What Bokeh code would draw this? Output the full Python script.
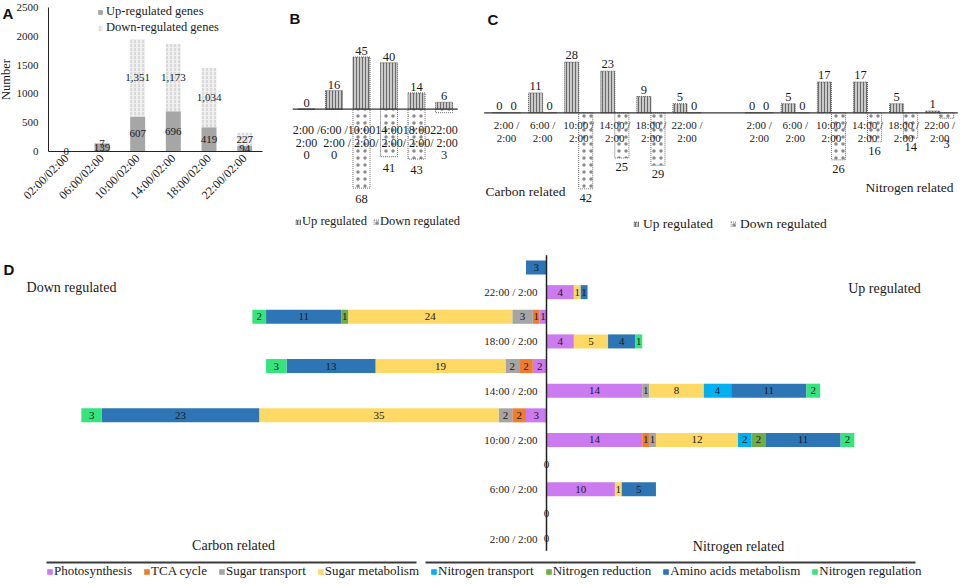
import math
import numpy as np
from bokeh.plotting import figure
from bokeh.models import (Range1d, ColumnDataSource, Legend, LegendItem,
                          Label, FixedTicker, LinearAxis)
from bokeh.layouts import row, column
from bokeh.embed import file_html
from bokeh.resources import INLINE
from bokeh.core.properties import value

SERIF = "Liberation Serif"
SANS = "Liberation Sans"
INK = "#1a1a1a"

# ---------------- data ----------------
a_times = ["02:00/02:00", "06:00/02:00", "10:00/02:00", "14:00/02:00", "18:00/02:00", "22:00/02:00"]
a_up = [0, 139, 607, 696, 419, 94]
a_down = [0, 7, 1351, 1173, 1034, 227]
a_yticks = [0, 500, 1000, 1500, 2000, 2500]

b_line1 = ["2:00 /", "6:00 /", "10:00", "14:00", "18:00", "22:00"]
b_line2 = ["2:00", "2:00", "/ 2:00", "/ 2:00", "/ 2:00", "/ 2:00"]
b_up = [0, 16, 45, 40, 14, 6]
b_down = [0, 0, 68, 41, 43, 3]

c_groups = ["Carbon related", "Nitrogen related"]
c_line1 = ["2:00 /", "6:00 /", "10:00 /", "14:00 /", "18:00 /", "22:00 /"]
c_line2 = ["2:00", "2:00", "2:00", "2:00", "2:00", "2:00"]
c_carbon_up = [0, 11, 28, 23, 9, 5]
c_carbon_down = [0, 0, 42, 25, 29, 0]
c_nitrogen_up = [0, 5, 17, 17, 5, 1]
c_nitrogen_down = [0, 0, 26, 16, 14, 3]

d_times = ["2:00 / 2:00", "6:00 / 2:00", "10:00 / 2:00", "14:00 / 2:00", "18:00 / 2:00", "22:00 / 2:00"]
d_categories = ["Photosynthesis", "TCA cycle", "Sugar transport", "Sugar metabolism",
                "Nitrogen transport", "Nitrogen reduction", "Amino acids metabolism", "Nitrogen regulation"]
d_colors = ["#cb7af0", "#ed7d31", "#a5a5a5", "#ffd966", "#00b0f0", "#70ad47", "#2e75b6", "#34e47c"]
d_up = {
    "Photosynthesis":        [0, 10, 14, 14, 4, 4],
    "TCA cycle":             [0, 0, 1, 0, 0, 0],
    "Sugar transport":       [0, 0, 1, 1, 0, 0],
    "Sugar metabolism":      [0, 1, 12, 8, 5, 1],
    "Nitrogen transport":    [0, 0, 2, 4, 0, 0],
    "Nitrogen reduction":    [0, 0, 2, 0, 0, 0],
    "Amino acids metabolism": [0, 5, 11, 11, 4, 1],
    "Nitrogen regulation":   [0, 0, 2, 2, 1, 0],
}
d_down = {
    "Photosynthesis":        [0, 0, 3, 2, 1, 0],
    "TCA cycle":             [0, 0, 2, 2, 1, 0],
    "Sugar transport":       [0, 0, 2, 2, 3, 0],
    "Sugar metabolism":      [0, 0, 35, 19, 24, 0],
    "Nitrogen transport":    [0, 0, 0, 0, 0, 0],
    "Nitrogen reduction":    [0, 0, 0, 0, 1, 0],
    "Amino acids metabolism": [0, 0, 23, 13, 11, 3],
    "Nitrogen regulation":   [0, 0, 3, 3, 2, 0],
}

UP_STYLE = dict(fill_color="#c9c9c9", hatch_pattern="vertical_line", hatch_color="#6a6a6a",
                hatch_scale=3, hatch_weight=1, line_color="#5a5a5a", line_dash="1 1", line_width=1)
DOWN_STYLE = dict(fill_color="#ffffff", hatch_pattern="dot", hatch_color="#8a8a8a",
                  hatch_scale=7, hatch_weight=1, line_color="#6a6a6a", line_dash="1 1", line_width=1)


def clean(p):
    p.outline_line_color = None
    p.grid.visible = False
    p.background_fill_color = "white"
    p.border_fill_color = "white"
    try:
        p.frame_align = False
    except Exception:
        pass


def letter(p, txt, x, y):
    p.add_layout(Label(x=x, y=y, x_units="screen", y_units="screen", text=txt,
                       text_font=SANS, text_font_style="bold", text_font_size="15px",
                       text_baseline="top", text_align="left", text_color="#111111"))


def style_legend(leg, size, glyph=6, standoff=3, spacing=2, lh=14):
    leg.glyph_width = glyph
    leg.glyph_height = glyph
    leg.label_standoff = standoff
    leg.label_height = lh
    leg.spacing = spacing
    leg.padding = 0
    leg.margin = 0
    leg.border_line_color = None
    leg.background_fill_alpha = 0
    leg.label_text_font = SERIF
    leg.label_text_font_size = size
    leg.label_text_color = INK


# ---------------- Panel A ----------------
A_W, A_H = 270, 248
A_FL, A_FR = 48, 262          # plot-area left / right (px)
A_Y0PX, A_YTOPPX = 150.7, 7.3  # pixel of value 0 / of 2500
A_PX = (A_FR - A_FL) / len(a_times)
A_PY = (A_Y0PX - A_YTOPPX) / a_yticks[-1]
ax0 = -A_FL / A_PX - 0.5
pA = figure(width=A_W, height=A_H,
            x_range=Range1d(ax0, ax0 + A_W / A_PX),
            y_range=Range1d(-(A_H - A_Y0PX) / A_PY, A_Y0PX / A_PY),
            x_axis_location=None, y_axis_location=None, min_border=0,
            output_backend="svg", toolbar_location=None)
clean(pA)
ax_idx = list(range(len(a_times)))
up = np.array(a_up, float)
dn = np.array(a_down, float)
srcA = ColumnDataSource(dict(x=ax_idx, up=up, total=up + dn, up_mid=up / 2,
                             up_lbl=[f"{int(v):,}" for v in up]))
rA_up = pA.vbar(x="x", top="up", bottom=0, width=0.42, source=srcA,
                fill_color="#a6a6a6", line_color=None)
rA_dn = pA.vbar(x="x", bottom="up", top="total", width=0.42, source=srcA,
                fill_color="#efefef", hatch_pattern="vertical_dash", hatch_color="#c2c2c2",
                hatch_scale=4, hatch_weight=1, line_color=None)
pA.text(x="x", y="up_mid", text="up_lbl", source=srcA, text_align="center", text_baseline="middle",
        text_font=value(SERIF), text_font_size="11px", text_color=INK)
keep = [i for i in ax_idx if a_down[i] > 0]
srcA2 = ColumnDataSource(dict(x=keep, y=[(up + dn / 2)[i] for i in keep],
                              t=[f"{a_down[i]:,}" for i in keep]))
pA.text(x="x", y="y", text="t", source=srcA2, text_align="center", text_baseline="middle",
        text_font=value(SERIF), text_font_size="11px", text_color=INK)

yax = LinearAxis(fixed_location=-0.5, bounds=(0, a_yticks[-1]), ticker=FixedTicker(ticks=a_yticks))
xax = LinearAxis(fixed_location=0, bounds=(-0.5, len(a_times) - 0.5), ticker=FixedTicker(ticks=ax_idx),
                 major_label_overrides={i: t for i, t in zip(ax_idx, a_times)})
for ax in (xax, yax):
    ax.major_tick_line_color = None
    ax.minor_tick_line_color = None
    ax.major_tick_out = 0
    ax.major_tick_in = 0
    ax.axis_line_color = "#222222"
    ax.major_label_text_font = SERIF
    ax.major_label_text_color = INK
yax.major_label_text_font_size = "11px"
yax.major_label_standoff = 10
yax.axis_label = "Number"
yax.axis_label_text_font = SERIF
yax.axis_label_text_font_style = "normal"
yax.axis_label_text_font_size = "12.5px"
yax.axis_label_text_color = INK
yax.axis_label_standoff = 1
xax.major_label_orientation = math.pi / 4
xax.major_label_text_font_size = "12px"
xax.major_label_standoff = 5
pA.add_layout(yax, "left")
pA.add_layout(xax, "below")

legA = Legend(items=[LegendItem(label="Up-regulated genes", renderers=[rA_up]),
                     LegendItem(label="Down-regulated genes", renderers=[rA_dn])],
              location=(97, A_H - 35), orientation="vertical")
style_legend(legA, "12.5px", glyph=6, standoff=3, spacing=1, lh=14)
pA.add_layout(legA)
letter(pA, "A", 2, A_H - 4)

# ---------------- Panel B ----------------
B_W, B_H = 198, 248
B_PX, B_X0 = 27.5, -36 / 27.5
B_PY, B_BASE = 1.16, 108.7
pB = figure(width=B_W, height=B_H, x_range=Range1d(B_X0, B_X0 + B_W / B_PX),
            y_range=Range1d(-(B_H - B_BASE) / B_PY, B_BASE / B_PY),
            x_axis_location=None, y_axis_location=None, min_border=0,
            output_backend="svg", toolbar_location=None)
clean(pB)
bx = np.arange(len(b_up))
bu = np.array(b_up, float)
bd = np.array(b_down, float)
srcB = ColumnDataSource(dict(x=bx, up=bu, dn=-bd, up_lbl=[str(v) for v in b_up],
                             dn_lbl=[str(v) for v in b_down], dn_y=np.minimum(-bd, -30),
                             l1=b_line1, l2=b_line2))
rB_up = pB.vbar(x="x", top="up", bottom=0, width=0.62, source=srcB, **UP_STYLE)
rB_dn = pB.vbar(x="x", top=0, bottom="dn", width=0.62, source=srcB, **DOWN_STYLE)
pB.segment(x0=-0.5, x1=len(b_up) - 0.5, y0=0, y1=0, line_color="#333333", line_width=1.3)
txt = dict(text_font=value(SERIF), text_color=INK, text_align="center")
pB.text(x="x", y="up", text="up_lbl", source=srcB, text_baseline="bottom", y_offset=-2,
        text_font_size="12.5px", **txt)
pB.text(x="x", y="dn_y", text="dn_lbl", source=srcB, text_baseline="middle", y_offset=11,
        text_font_size="12.5px", **txt)
pB.text(x="x", y=0, text="l1", source=srcB, text_baseline="middle", y_offset=21,
        text_font_size="12px", **txt)
pB.text(x="x", y=0, text="l2", source=srcB, text_baseline="middle", y_offset=34,
        text_font_size="12px", **txt)
legB = Legend(items=[LegendItem(label="Up regulated", renderers=[rB_up]),
                     LegendItem(label="Down regulated", renderers=[rB_dn])],
              location=(25, 19), orientation="horizontal")
style_legend(legB, "12.5px", glyph=6, standoff=1, spacing=6, lh=14)
pB.add_layout(legB)
letter(pB, "B", 19, B_H - 9)

# ---------------- Panel C ----------------
C_W, C_H = 496, 248
C_PX, C_X0 = 36.1, -38 / 36.1
C_PY, C_BASE = 1.81, 112.3
pC = figure(width=C_W, height=C_H, x_range=Range1d(C_X0, C_X0 + C_W / C_PX),
            y_range=Range1d(-(C_H - C_BASE) / C_PY, C_BASE / C_PY),
            x_axis_location=None, y_axis_location=None, min_border=0,
            output_backend="svg", toolbar_location=None)
clean(pC)
n6 = len(c_line1)
pos = np.array([g * (n6 + 1) + i for g in range(2) for i in range(n6)], float)
cu = np.array(c_carbon_up + c_nitrogen_up, float)
cd = np.array(c_carbon_down + c_nitrogen_down, float)
srcC = ColumnDataSource(dict(xu=pos - 0.195, xd=pos + 0.195, x=pos, up=cu, dn=-cd,
                             up_lbl=[str(int(v)) for v in cu],
                             l1=c_line1 * 2, l2=c_line2 * 2))
rC_up = pC.vbar(x="xu", top="up", bottom=0, width=0.39, source=srcC, **UP_STYLE)
rC_dn = pC.vbar(x="xd", top=0, bottom="dn", width=0.39, source=srcC, **DOWN_STYLE)
pC.segment(x0=-0.62, x1=len(pos) + 0.5, y0=0, y1=0, line_color="#333333", line_width=1.3)
pC.text(x="xu", y="up", text="up_lbl", source=srcC, text_baseline="bottom", y_offset=-3,
        text_font_size="12.5px", **txt)
zero = cd == 0
srcCz = ColumnDataSource(dict(x=(pos + 0.195)[zero], y=np.zeros(zero.sum()),
                              t=[str(int(v)) for v in cd[zero]]))
pC.text(x="x", y="y", text="t", source=srcCz, text_baseline="bottom", y_offset=-3,
        text_font_size="12.5px", **txt)
srcCn = ColumnDataSource(dict(x=(pos + 0.195)[~zero], y=np.minimum(-cd[~zero], -12),
                              t=[str(int(v)) for v in cd[~zero]]))
pC.text(x="x", y="y", text="t", source=srcCn, text_baseline="top", y_offset=5,
        text_font_size="12.5px", **txt)
pC.text(x="x", y=0, text="l1", source=srcC, text_baseline="middle", y_offset=12,
        text_font_size="11px", **txt)
pC.text(x="x", y=0, text="l2", source=srcC, text_baseline="middle", y_offset=25,
        text_font_size="11px", **txt)
for gname, gx, gy in zip(c_groups, [57, 441], [C_H - 190.7, C_H - 186.7]):
    pC.add_layout(Label(x=gx, y=gy, x_units="screen", y_units="screen", text=gname,
                        text_font=SERIF, text_font_size="13.5px", text_color=INK,
                        text_align="center", text_baseline="middle"))
legC = Legend(items=[LegendItem(label="Up regulated", renderers=[rC_up]),
                     LegendItem(label="Down regulated", renderers=[rC_dn])],
              location=(165, 16), orientation="horizontal")
style_legend(legC, "13.5px", glyph=6, standoff=4, spacing=17, lh=14)
pC.add_layout(legC)
letter(pC, "C", 19, C_H - 10)

# ---------------- Panel D ----------------
D_W, D_H = 964, 337
D_PX, D_AX = 6.84, 546
D_PY, D_TOP = 24.64, 19
n_rows = 2 * len(d_times)
pD = figure(width=D_W, height=D_H,
            x_range=Range1d(-D_AX / D_PX, (D_W - D_AX) / D_PX),
            y_range=Range1d((n_rows - 1) - (D_H - D_TOP) / D_PY, (n_rows - 1) + D_TOP / D_PY),
            x_axis_location=None, y_axis_location=None, min_border=0,
            output_backend="svg", toolbar_location=None)
clean(pD)


def sx(px):
    return (px - D_AX) / D_PX


def sy(py):
    return (n_rows - 1) - (py - D_TOP) / D_PY


n_t = len(d_times)
up_cum = np.zeros(n_t)
dn_cum = np.zeros(n_t)
d_items = []
for cat, col in zip(d_categories, d_colors):
    u = np.array(d_up[cat], float)
    d = np.array(d_down[cat], float)
    ys, lefts, rights, lbls = [], [], [], []
    for k in range(n_t):
        if u[k] > 0:
            ys.append(2 * k); lefts.append(up_cum[k]); rights.append(up_cum[k] + u[k]); lbls.append(str(int(u[k])))
        if d[k] > 0:
            ys.append(2 * k + 1); lefts.append(-(dn_cum[k] + d[k])); rights.append(-dn_cum[k]); lbls.append(str(int(d[k])))
    up_cum += u
    dn_cum += d
    src = ColumnDataSource(dict(y=ys, left=lefts, right=rights,
                                mid=[(a + b) / 2 for a, b in zip(lefts, rights)], lbl=lbls))
    r = pD.hbar(y="y", left="left", right="right", height=0.57, source=src,
                fill_color=col, line_color=None)
    pD.text(x="mid", y="y", text="lbl", source=src, text_align="center", text_baseline="middle",
            text_font=value(SERIF), text_font_size="11px", text_color=INK)
    d_items.append(LegendItem(label=cat, renderers=[r]))

pD.segment(x0=0, x1=0, y0=-0.5, y1=n_rows - 0.5, line_color="#222222", line_width=1.5)
zy = []
for k in range(n_t):
    if up_cum[k] == 0:
        zy.append(2 * k)
    if dn_cum[k] == 0:
        zy.append(2 * k + 1)
pD.text(x=[0] * len(zy), y=zy, text=["0"] * len(zy), text_align="center", text_baseline="middle",
        text_font=value(SERIF), text_font_size="11px", text_color=INK)
pD.text(x=[0] * n_t, y=[2 * k for k in range(n_t)], text=d_times, x_offset=-9,
        text_align="right", text_baseline="middle",
        text_font=value(SERIF), text_font_size="11px", text_color=INK)
for t, x, y in [("Down regulated", 71, D_H - 39), ("Up regulated", 884, D_H - 40),
                ("Carbon related", 233, D_H - 297), ("Nitrogen related", 738, D_H - 298)]:
    pD.add_layout(Label(x=x, y=y, x_units="screen", y_units="screen", text=t,
                        text_font=SERIF, text_font_size="14px", text_color=INK,
                        text_align="center", text_baseline="middle"))
pD.segment(x0=[sx(46), sx(425)], x1=[sx(416), sx(915)], y0=[sy(314)] * 2, y1=[sy(314)] * 2,
           line_color="#3a3a3a", line_width=2)
legD = Legend(items=d_items, location=(46, 6), orientation="horizontal")
style_legend(legD, "13px", glyph=7, standoff=1, spacing=11, lh=13)
pD.add_layout(legD)
letter(pD, "D", 3, D_H - 12)

layout = column(row(pA, pB, pC), pD)
open("out.html", "w").write(file_html(layout, INLINE))
